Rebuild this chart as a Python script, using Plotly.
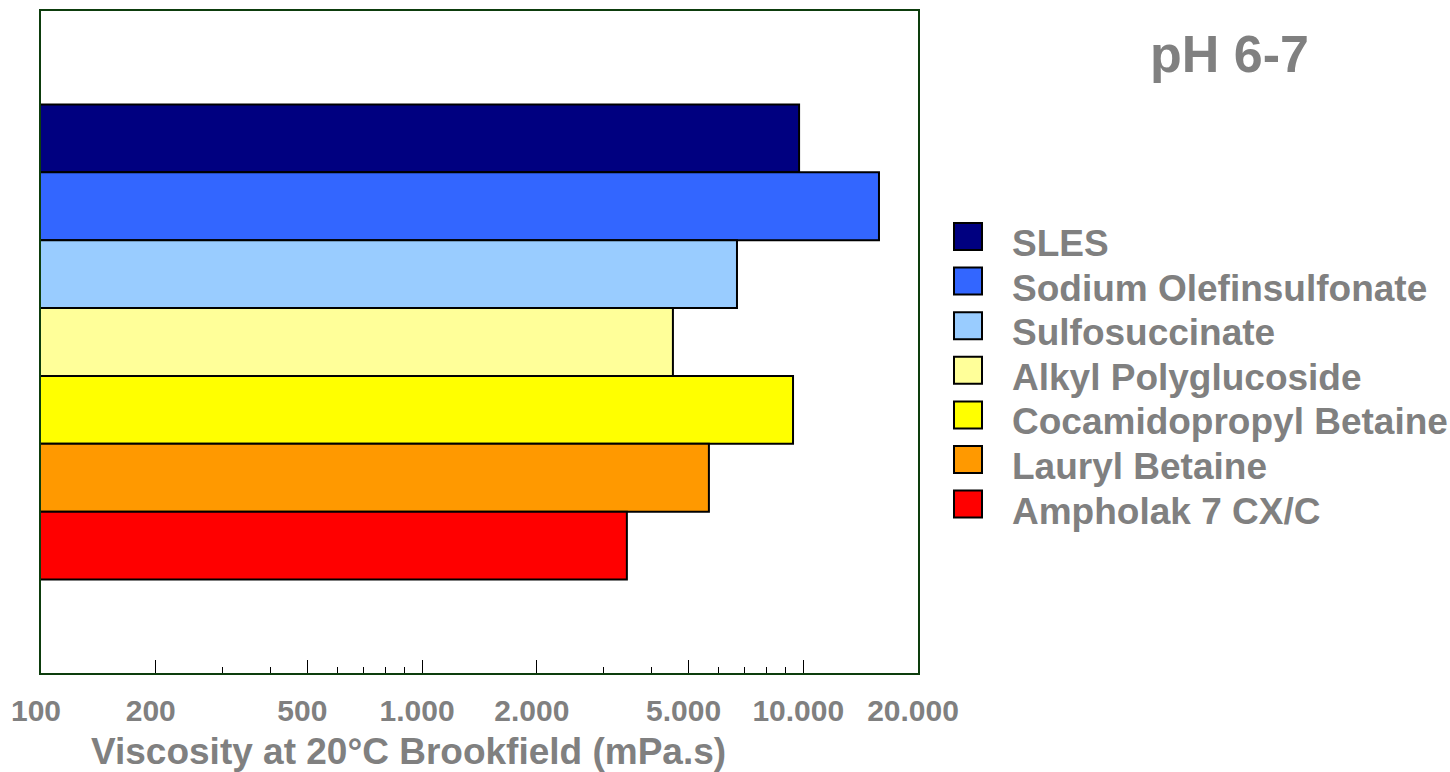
import plotly.graph_objects as go

# ---- data ----
names = ["SLES", "Sodium Olefinsulfonate", "Sulfosuccinate", "Alkyl Polyglucoside",
         "Cocamidopropyl Betaine", "Lauryl Betaine", "Ampholak 7 CX/C"]
viscosity = [9750, 15800, 6700, 4550, 9400, 5655, 3445]
colors = ["#000080", "#3366FF", "#99CCFF", "#FFFF99", "#FFFF00", "#FF9900", "#FF0000"]
category = ["pH 6-7"]
major_ticks = [100, 200, 500, 1000, 2000, 5000, 10000, 20000]
major_labels = ["100", "200", "500", "1.000", "2.000", "5.000", "10.000", "20.000"]
minor_ticks = [300, 400, 600, 700, 800, 900, 3000, 4000, 6000, 7000, 8000, 9000]
title_text = "pH 6-7"
xaxis_title = "Viscosity at 20°C Brookfield (mPa.s)"

W, H = 1450, 772
FONT = "Liberation Sans, Arial, sans-serif"
GRAY = "#808080"


def px(x):
    return x / W


def py(y):
    return 1 - y / H


fig = go.Figure()
for n, v, c in zip(names, viscosity, colors):
    fig.add_trace(go.Bar(
        name=n, y=category, x=[v], orientation="h",
        marker=dict(color=c, line=dict(color="black", width=2)),
        showlegend=False,
    ))

fig.update_layout(
    width=W, height=H, autosize=False,
    margin=dict(l=0, r=0, t=0, b=0, pad=0),
    paper_bgcolor="white", plot_bgcolor="white",
    barmode="group", bargap=0.2825, bargroupgap=0,
    showlegend=False,
    xaxis=dict(
        type="log", domain=[px(41), px(918)],
        range=[2, 4.30103], automargin=False,
        tickmode="array", tickvals=major_ticks, ticktext=major_labels,
        ticks="inside", ticklen=13, tickwidth=1, tickcolor="black",
        minor=dict(tickvals=minor_ticks, ticks="inside", ticklen=6,
                   tickwidth=1, tickcolor="black"),
        tickfont=dict(family=FONT, size=30, color=GRAY, weight="bold"),
        ticklabelstandoff=10, ticklabelshift=-5,
        showgrid=False, zeroline=False,
        showline=True, linecolor="#0d3d0d", linewidth=2, mirror=True,
        fixedrange=True,
    ),
    yaxis=dict(
        domain=[py(673), py(11)], automargin=False,
        autorange="reversed",
        showticklabels=False, ticks="",
        showgrid=False, zeroline=False,
        showline=True, linecolor="#0d3d0d", linewidth=2, mirror=True,
        fixedrange=True,
    ),
)

annotations = [
    dict(text=title_text, x=px(1229.5), y=py(54), xref="paper", yref="paper",
         xanchor="center", yanchor="middle", showarrow=False,
         font=dict(family=FONT, size=52, color=GRAY, weight="bold")),
    dict(text=xaxis_title, x=px(408.5), y=py(751), xref="paper", yref="paper",
         xanchor="center", yanchor="middle", showarrow=False,
         font=dict(family=FONT, size=37, color=GRAY, weight="bold")),
]
shapes = []
step = 44.6
for i, (n, c) in enumerate(zip(names, colors)):
    sy = 236.5 + i * step
    shapes.append(dict(type="rect", xref="paper", yref="paper",
                       x0=px(954), x1=px(982), y0=py(sy - 13.5), y1=py(sy + 13.5),
                       fillcolor=c, line=dict(color="black", width=2)))
    annotations.append(dict(text=n, x=px(1010), y=py(243.5 + i * step),
                            xref="paper", yref="paper",
                            xanchor="left", yanchor="middle", showarrow=False,
                            font=dict(family=FONT, size=37, color=GRAY, weight="bold")))

fig.update_layout(annotations=annotations, shapes=shapes)
fig.write_html(
    "out.html",
    config={"displayModeBar": False},
    post_script="document.body.style.margin='0';document.body.style.overflow='hidden';",
)
